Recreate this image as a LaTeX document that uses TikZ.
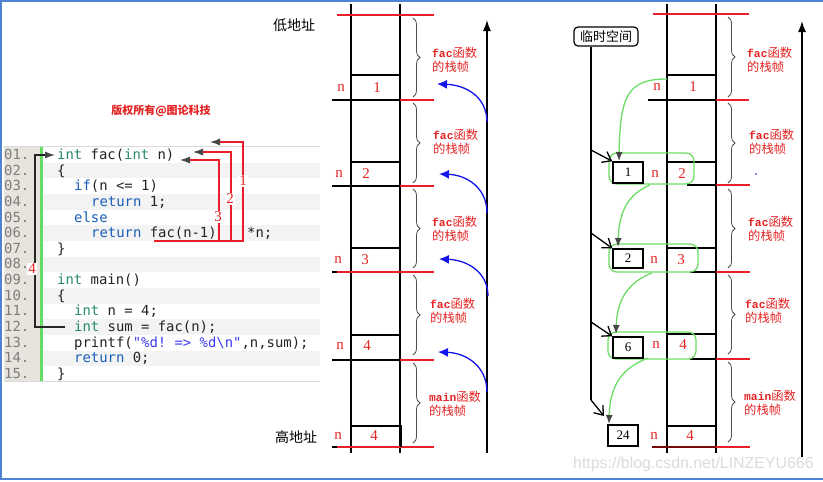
\documentclass[tikz,border=0pt]{standalone}
\usepackage{fontspec}
\setmainfont{Liberation Serif}
\setmonofont{DejaVu Sans Mono}
\newfontfamily\cjk{Noto Sans CJK SC}
\newfontfamily\lmono{Liberation Mono}
\newfontfamily\wsans{Liberation Sans}
\usetikzlibrary{arrows.meta,decorations.pathreplacing}
\definecolor{kwg}{RGB}{40,140,100}
\definecolor{kwb}{RGB}{25,95,185}
\definecolor{strc}{RGB}{60,60,240}
\definecolor{lnumc}{RGB}{125,125,125}
\definecolor{codetx}{RGB}{35,35,35}
\definecolor{redl}{RGB}{232,30,40}
\definecolor{redt}{RGB}{230,35,35}
\definecolor{darkredl}{RGB}{120,10,10}
\definecolor{gbar}{RGB}{100,220,100}
\definecolor{lnbg}{RGB}{230,228,220}
\definecolor{stripe}{RGB}{243,243,243}
\definecolor{frameb}{RGB}{80,130,210}
\definecolor{greenl}{RGB}{110,220,100}
\definecolor{arrg}{RGB}{70,70,70}
\definecolor{bluea}{RGB}{20,20,235}
\newcommand\kg[1]{\textcolor{kwg}{#1}}
\newcommand\kb[1]{\textcolor{kwb}{#1}}
\newcommand\ks[1]{\textcolor{strc}{#1}}
\newcommand\fl[1]{{\lmono\bfseries\fontsize{11.3pt}{14pt}\selectfont #1}{\cjk 函数}\\{\cjk 的栈帧}}
\begin{document}
\begin{tikzpicture}[x=1pt,y=-1pt,
  code/.style={anchor=base west, inner sep=0pt, font=\ttfamily\fontsize{13.9pt}{16pt}\selectfont, text=codetx},
  lnum/.style={code, text=lnumc},
  redarr/.style={draw=redl, line width=1.2pt, -{Latex[length=10pt,width=7pt,color=arrg]}},
  blkarr/.style={draw=black!85, line width=1.3pt, -{Latex[length=10pt,width=7pt,color=arrg]}},
  numlab/.style={fill=white, inner sep=1pt, text=redt, font=\fontsize{15pt}{15pt}\selectfont},
  blk/.style={line width=1.4pt, black},
  redh/.style={line width=1.4pt, redl},
  cellb/.style={line width=1.3pt, black},
  brc/.style={decorate, decoration={brace, amplitude=7pt}, draw=black!70, line width=0.8pt},
  fl/.style={anchor=west, inner sep=0pt, text=redt, align=left, font=\cjk\fontsize{12.3pt}{14pt}\selectfont},
  nl/.style={inner sep=0pt, text=redt, font=\fontsize{15pt}{15pt}\selectfont},
  addr/.style={inner sep=0pt, font=\cjk\fontsize{14pt}{14pt}\selectfont},
  bluearr/.style={draw=bluea, line width=1.3pt, -{Latex[length=10pt,width=9pt]}},
  uparr/.style={line width=1.4pt, -{Latex[length=11pt,width=8pt]}},
  tmpbox/.style={draw, line width=1.5pt, fill=white, minimum width=30pt, minimum height=21pt, inner sep=0pt, font=\fontsize{13pt}{13pt}\selectfont},
  greenbox/.style={draw=greenl, line width=1.3pt, rounded corners=8pt},
  gcurve/.style={draw=greenl, line width=1.3pt, -{Latex[length=9pt,width=7pt,color=arrg]}},
  tarr/.style={line width=1.3pt, -{Straight Barb[length=8pt,width=12pt]}}
]
\useasboundingbox (0,0) rectangle (823,482);
\fill[white] (0,0) rectangle (823,482);
% frame
\draw[frameb, line width=1.5pt] (0,0.75) -- (823,0.75);
\draw[frameb, line width=1.5pt] (1,0) -- (1,479) -- (823,479);

% ---------- code panel ----------
\node[inner sep=0pt, text=redt, font=\cjk\bfseries\fontsize{11pt}{11pt}\selectfont] (wm) at (161,111) {版权所有@图论科技};
\fill[lnbg] (4,146) rectangle (40,381);
\fill[gbar] (40,146) rectangle (43,381);
\foreach \i in {2,4,...,14} {
  \fill[stripe] (43,{155+(\i-1)*15.64-7.8}) rectangle (320,{155+(\i-1)*15.64+7.8});
}
\draw[black!15, line width=0.8pt] (4,146) -- (320,146);
\draw[black!15, line width=0.8pt] (4,381) -- (320,381);
\foreach \i in {1,...,15} {
  \node[lnum] (ln\i) at (4,{159.5+(\i-1)*15.64}) {\ifnum\i<10 0\fi\i.};
}
\node[code] (c1) at (57,159.5) {\kg{int} fac(\kg{int} n)};
\node[code] (c2) at (57,175.1) {\{};
\node[code] (c3) at (74,190.8) {\kb{if}(n <= 1)};
\node[code] (c4) at (91,206.4) {\kb{return} 1;};
\node[code] (c5) at (74,222.1) {\kb{else}};
\node[code] (c6) at (91,237.7) {\kb{return} fac(n-1)};
\node[code] (c6b) at (247,237.7) {*n;};
\node[code] (c7) at (57,253.3) {\}};
\node[code] (c9) at (57,284.6) {\kg{int} main()};
\node[code] (c10) at (57,300.3) {\{};
\node[code] (c11) at (74,315.9) {\kg{int} n = 4;};
\node[code] (c12) at (74,331.5) {\kg{int} sum = fac(n);};
\node[code] (c13) at (74,347.2) {printf(\ks{"\%d! => \%d\textbackslash n"},n,sum);};
\node[code] (c14) at (74,362.8) {\kb{return} 0;};
\node[code] (c15) at (57,378.5) {\}};

% return arrows
\coordinate (r0) at (154,241);
\coordinate (r3) at (219,241);
\coordinate (r2) at (231,241);
\coordinate (r1) at (243,241);
\coordinate (t3) at (180,160);
\coordinate (t2) at (193,152);
\coordinate (t1) at (210,142);
\draw[redarr] (r0) -- (r3) -- (r3 |- t3) -- (t3);
\draw[redarr] (r3) -- (r2) -- (r2 |- t2) -- (t2);
\draw[redarr] (r2) -- (r1) -- (r1 |- t1) -- (t1);
\node[numlab] (l1) at (243,181) {1};
\node[numlab] (l2) at (230,199) {2};
\node[numlab] (l3) at (218,217) {3};
% call arrow
\coordinate (k0) at (65,327);
\coordinate (k1) at (35,327);
\coordinate (k2) at (35,155);
\coordinate (k3) at (55,155);
\draw[blkarr] (k0) -- (k1) -- (k2) -- (k3);
\node[numlab] (l4) at (32,269) {4};

% ---------- left stack ----------
\node[addr] (lo) at (294,25) {低地址};
\node[addr] (hi) at (296,437) {高地址};
\draw[blk] (351,4) -- (351,453);
\draw[blk] (400,4) -- (400,453);
\draw[redh] (337,15) -- (434,15);
\draw[blk] (332,100) -- (400,100); \draw[redh] (400,100) -- (434,100);
\draw[blk] (332,186) -- (400,186); \draw[redh] (400,186) -- (434,186);
\draw[blk] (332,272) -- (337,272); \draw[redh] (337,272) -- (434,272);
\draw[blk] (332,360) -- (400,360); \draw[redh] (400,360) -- (434,360);
\draw[blk] (332,447) -- (337,447); \draw[redh] (337,447) -- (434,447);
\draw[cellb] (351,75) -- (400,75);
\draw[cellb] (351,162) -- (400,162);
\draw[cellb] (351,248) -- (400,248);
\draw[cellb] (351,335) -- (400,335);
\draw[cellb] (351,426) -- (401,426) -- (401,447);
\foreach \nx/\vx/\y/\v in {341/377/88/1, 339/366/174/2, 338/365/260/3, 340/367/346/4, 338/374/436/4} {
  \node[nl] at (\nx,\y) {n};
  \node[nl] at (\vx,\y) {\v};
}
\draw[brc] (413,18) -- (413,97);
\draw[brc] (413,103) -- (413,183);
\draw[brc] (413,189) -- (413,268);
\draw[brc] (413,275) -- (413,355);
\draw[brc] (413,363) -- (413,443);
\node[fl] (fa1) at (432,60) {\fl{fac}};
\node[fl] (fa2) at (433,142) {\fl{fac}};
\node[fl] (fa3) at (432,228.5) {\fl{fac}};
\node[fl] (fa4) at (430,311) {\fl{fac}};
\node[fl] (fa5) at (429,403.5) {\fl{main}};
\coordinate (ua0) at (487,453);
\coordinate (ua1) at (487,20);
\draw[uparr] (ua0) -- (ua1);
\draw[bluearr] (487,122) .. controls (487,97) and (466,85) .. (437,84);
\draw[bluearr] (487,213) .. controls (487,188) and (467,175) .. (439,174);
\draw[bluearr] (488,296) .. controls (488,272) and (467,260) .. (439,259);
\draw[bluearr] (487,392) .. controls (487,366) and (466,353) .. (438,352);

% ---------- right stack ----------
\draw[blk] (667,4) -- (667,453);
\draw[blk] (716,4) -- (716,453);
\draw[redh] (653,14) -- (749,14);
\draw[blk] (648,100) -- (716,100); \draw[redh] (716,100) -- (749,100);
\draw[blk] (687,185) -- (716,185); \draw[redh] (716,185) -- (750,185);
\draw[blk] (690,272) -- (716,272); \draw[redh] (716,272) -- (750,272);
\draw[blk] (690,359) -- (716,359); \draw[redh] (716,359) -- (750,359);
\draw[line width=1.4pt, darkredl] (652,447) -- (716,447); \draw[redh] (716,447) -- (750,447);
\draw[cellb] (667,75) -- (716,75);
\draw[cellb] (667,162) -- (716,162);
\draw[cellb] (667,248) -- (716,248);
\draw[cellb] (667,334) -- (716,334);
\draw[cellb] (667,426) -- (716,426);
\foreach \nx/\vx/\y/\v in {657/693/87/1, 655/682/174/2, 654/681/260/3, 656/683/345/4, 654/690/436/4} {
  \node[nl] at (\nx,\y) {n};
  \node[nl] at (\vx,\y) {\v};
}
\draw[brc] (728,17) -- (728,97);
\draw[brc] (728,103) -- (728,183);
\draw[brc] (728,189) -- (728,268);
\draw[brc] (728,275) -- (728,354);
\draw[brc] (728,362) -- (728,442);
\node[fl] (fb1) at (747,60) {\fl{fac}};
\node[fl] (fb2) at (749,142) {\fl{fac}};
\node[fl] (fb3) at (748,228.5) {\fl{fac}};
\node[fl] (fb4) at (745,311) {\fl{fac}};
\node[fl] (fb5) at (744,403) {\fl{main}};
\coordinate (ub0) at (802,457);
\coordinate (ub1) at (802,21);
\draw[uparr] (ub0) -- (ub1);
\fill[bluea] (756,174) circle (0.9);

% temp space
\node[draw, line width=1.2pt, rounded corners=4pt, minimum width=64pt, minimum height=19pt, inner sep=0pt, font=\cjk\fontsize{13pt}{13pt}\selectfont] (tmp) at (606,36.5) {临时空间};
\draw[greenbox] (609,153) rectangle (694,184);
\draw[greenbox] (609,244) rectangle (698,272);
\draw[greenbox] (608,332) rectangle (696,359);
\node[tmpbox] (b1) at (628,172.5) {1};
\node[tmpbox, minimum height=19pt] (b2) at (628,258.5) {2};
\node[tmpbox] (b6) at (628,347.5) {6};
\node[tmpbox] (b24) at (623,435.5) {24};
\coordinate (v0) at (591,400);
\coordinate (v1) at (591,150);
\coordinate (v2) at (591,233);
\coordinate (v3) at (591,322);
\coordinate (v4) at (604,416);
\draw[line width=1.3pt] (tmp.south -| v0) -- (v0);
\draw[tarr] (v0) -- (v4);
\draw[tarr] (v1) -- (b1.north west);
\draw[tarr] (v2) -- (b2.north west);
\draw[tarr] (v3) -- (b6.north west);
\draw[gcurve] (667,79) .. controls (628,79) and (620,95) .. (619,161);
\draw[gcurve] (650,185) .. controls (628,194) and (619,212) .. (618,247);
\draw[gcurve] (652,273) .. controls (628,282) and (617,300) .. (616,334);
\draw[gcurve] (648,358) .. controls (622,368) and (610,385) .. (609,424);

\node[anchor=west, inner sep=0pt, text=black!14, font=\wsans\fontsize{15.9pt}{16pt}\selectfont] (url) at (573,464) {https://blog.csdn.net/LINZEYU666};
\end{tikzpicture}
\end{document}
